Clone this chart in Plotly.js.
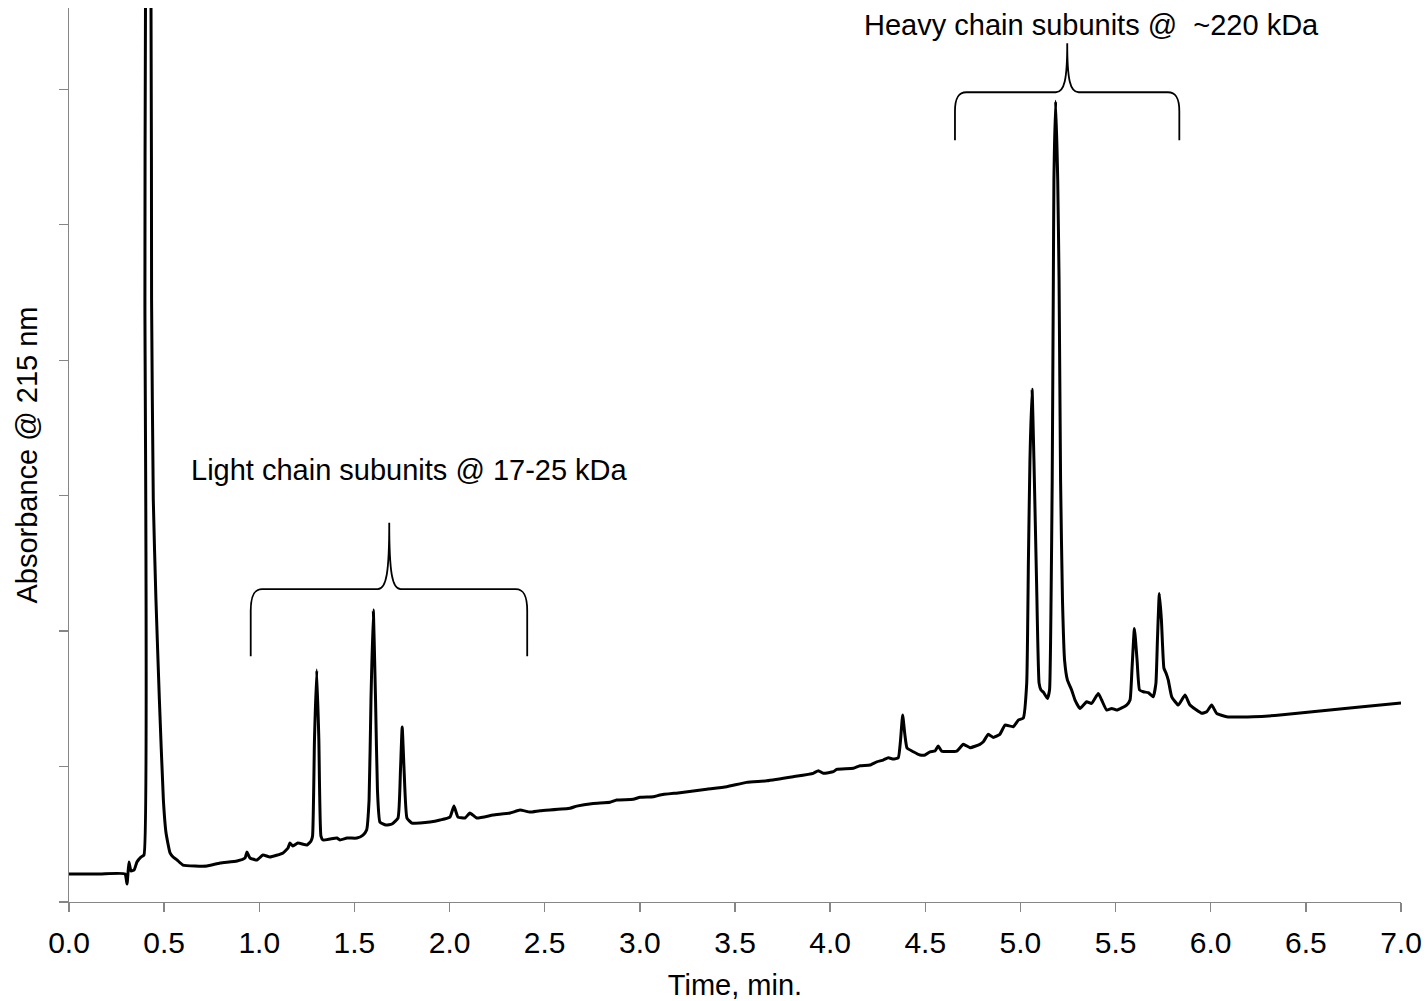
<!DOCTYPE html>
<html>
<head>
<meta charset="utf-8">
<script src="https://cdn.plot.ly/plotly-3.0.1.min.js"></script>
<style>html,body{margin:0;padding:0;background:#fff;}#chart{width:1428px;height:1001px;}</style>
</head>
<body>
<div id="chart"></div>
<script>
// Retention time (min)
const time = [
  0.000, 0.163, 0.294, 0.305, 0.315, 0.326, 0.342, 0.357, 0.378, 0.394,
  0.399, 0.402, 0.415, 0.431, 0.434, 0.443, 0.457, 0.475, 0.496, 0.510,
  0.531, 0.547, 0.568, 0.599, 0.662, 0.725, 0.794, 0.883, 0.925, 0.935,
  0.951, 0.988, 1.019, 1.056, 1.125, 1.151, 1.161, 1.177, 1.203, 1.251,
  1.272, 1.280, 1.290, 1.302, 1.313, 1.324, 1.335, 1.372, 1.408, 1.424,
  1.461, 1.513, 1.545, 1.564, 1.577, 1.587, 1.599, 1.611, 1.621, 1.634,
  1.666, 1.697, 1.729, 1.742, 1.751, 1.761, 1.776, 1.802, 1.845, 1.897,
  1.950, 2.002, 2.023, 2.044, 2.081, 2.107, 2.143, 2.228, 2.318, 2.370,
  2.423, 2.475, 2.633, 2.668, 2.755, 2.843, 2.878, 2.965, 3.001, 3.071,
  3.106, 3.211, 3.351, 3.456, 3.561, 3.667, 3.806, 3.911, 3.938, 3.964,
  4.017, 4.034, 4.122, 4.157, 4.209, 4.245, 4.279, 4.306, 4.332, 4.358,
  4.370, 4.381, 4.393, 4.404, 4.437, 4.472, 4.499, 4.525, 4.551, 4.568,
  4.586, 4.665, 4.700, 4.735, 4.787, 4.805, 4.831, 4.857, 4.892, 4.919,
  4.962, 4.989, 5.015, 5.033, 5.042, 5.050, 5.061, 5.071, 5.085, 5.098,
  5.108, 5.120, 5.142, 5.153, 5.161, 5.167, 5.173, 5.176, 5.185, 5.196,
  5.203, 5.211, 5.221, 5.232, 5.247, 5.269, 5.287, 5.313, 5.348, 5.374,
  5.409, 5.427, 5.453, 5.480, 5.506, 5.558, 5.576, 5.586, 5.599, 5.613,
  5.626, 5.646, 5.672, 5.698, 5.712, 5.720, 5.730, 5.741, 5.754, 5.765,
  5.777, 5.795, 5.830, 5.865, 5.891, 5.953, 5.979, 6.005, 6.031, 6.084,
  6.222, 6.364, 6.574, 6.784, 7.000
];
// Absorbance @ 215 nm (arbitrary units, 1 unit = 1 y tick)
const absorbance = [
  0.207, 0.207, 0.207, 0.133, 0.295, 0.229, 0.236, 0.295, 0.332, 0.347,
  4.443, 6.600, 7.200, 6.600, 4.443, 2.967, 2.229, 1.491, 0.753, 0.509,
  0.362, 0.332, 0.310, 0.273, 0.266, 0.266, 0.288, 0.303, 0.325, 0.369,
  0.325, 0.310, 0.347, 0.332, 0.362, 0.399, 0.435, 0.413, 0.435, 0.421,
  0.450, 0.487, 1.196, 1.712, 1.196, 0.487, 0.458, 0.465, 0.472, 0.458,
  0.472, 0.472, 0.494, 0.531, 0.753, 1.491, 2.155, 1.491, 0.827, 0.590,
  0.568, 0.576, 0.620, 0.974, 1.292, 0.974, 0.620, 0.583, 0.583, 0.590,
  0.605, 0.627, 0.708, 0.627, 0.620, 0.657, 0.620, 0.642, 0.657, 0.679,
  0.664, 0.674, 0.692, 0.708, 0.728, 0.736, 0.753, 0.758, 0.773, 0.777,
  0.790, 0.807, 0.832, 0.851, 0.883, 0.895, 0.925, 0.950, 0.969, 0.950,
  0.962, 0.979, 0.987, 1.006, 1.011, 1.035, 1.048, 1.065, 1.055, 1.065,
  1.196, 1.380, 1.232, 1.137, 1.109, 1.085, 1.085, 1.109, 1.114, 1.151,
  1.114, 1.114, 1.164, 1.139, 1.164, 1.183, 1.238, 1.215, 1.238, 1.306,
  1.294, 1.343, 1.358, 1.614, 2.524, 3.262, 3.786, 3.262, 2.352, 1.616,
  1.565, 1.550, 1.503, 1.565, 2.229, 3.114, 4.590, 5.328, 5.911, 5.328,
  4.590, 3.114, 2.229, 1.786, 1.638, 1.565, 1.491, 1.429, 1.478, 1.466,
  1.540, 1.491, 1.417, 1.429, 1.417, 1.454, 1.491, 1.712, 2.020, 1.786,
  1.565, 1.552, 1.545, 1.515, 1.614, 1.934, 2.278, 2.081, 1.727, 1.690,
  1.638, 1.515, 1.454, 1.528, 1.454, 1.393, 1.404, 1.454, 1.393, 1.368,
  1.368, 1.380, 1.410, 1.439, 1.469
];
// X tick values and labels
const xTickVals = [0, 0.5, 1, 1.5, 2, 2.5, 3, 3.5, 4, 4.5, 5, 5.5, 6, 6.5, 7];
const xTickText = ["0.0","0.5","1.0","1.5","2.0","2.5","3.0","3.5","4.0","4.5","5.0","5.5","6.0","6.5","7.0"];
// Bracket annotations: [start time, end time, middle time]
const braceLabels = ["Light chain subunits @ 17-25 kDa", "Heavy chain subunits @ \u00a0~220 kDa"];
const braceStart = [0.955, 4.656];
const braceEnd = [2.408, 5.835];
const braceMid = [1.683, 5.246];
const braceBottom = [1.815, 5.624];
const braceTop = [2.310, 5.978];
const braceTip = [2.800, 6.339];
const labelX = [1.792, 5.371];
const labelY = [3.188, 6.472];

function bracePath(i) {
  const x0 = braceStart[i], x1 = braceEnd[i], xm = braceMid[i];
  const yb = braceBottom[i], yt = braceTop[i], yp = braceTip[i];
  const dx = 0.06, dy = Math.min(0.16, (yt - yb) * 0.4), dm = 0.06;
  const h = (yp - yt);
  return `M ${x0},${yb} L ${x0},${yt - dy} C ${x0},${yt - dy * 0.3} ${x0 + dx * 0.3},${yt} ${x0 + dx},${yt} ` +
         `L ${xm - dm},${yt} C ${xm - dm * 0.25},${yt} ${xm},${yt + h * 0.25} ${xm},${yp} ` +
         `C ${xm},${yt + h * 0.25} ${xm + dm * 0.25},${yt} ${xm + dm},${yt} ` +
         `L ${x1 - dx},${yt} C ${x1 - dx * 0.3},${yt} ${x1},${yt - dy * 0.3} ${x1},${yt - dy} L ${x1},${yb}`;
}

const FONT = "Arial, 'Liberation Sans', sans-serif";
const shapes = braceStart.map((_, i) => ({
  type: 'path', xref: 'x', yref: 'y', path: bracePath(i),
  line: {color: '#000', width: 1.8}
}));
const annotations = braceLabels.map((t, i) => ({
  text: t, x: labelX[i], y: labelY[i], xref: 'x', yref: 'y',
  showarrow: false, xanchor: 'center', yanchor: 'middle',
  font: {family: FONT, size: 29, color: '#000'}
}));

const trace = {
  x: time, y: absorbance, type: 'scatter', mode: 'lines',
  line: {color: '#000', width: 3, shape: 'spline', smoothing: 0.4},
  hoverinfo: 'x+y'
};

const layout = {
  width: 1428, height: 1001,
  margin: {l: 69, r: 27, t: 8, b: 99},
  paper_bgcolor: '#fff', plot_bgcolor: '#fff',
  showlegend: false,
  font: {family: FONT, color: '#000'},
  xaxis: {
    range: [0, 7], tickvals: xTickVals, ticktext: xTickText,
    ticks: 'outside', ticklen: 9, tickcolor: '#868686', tickwidth: 1.3,
    ticklabelstandoff: 5,
    showline: true, linecolor: '#868686', linewidth: 1.3,
    showgrid: false, zeroline: false,
    tickfont: {family: FONT, size: 30, color: '#000'},
    title: {text: 'Time, min.', font: {family: FONT, size: 29, color: '#000'}, standoff: 22}
  },
  yaxis: {
    range: [0, 6.6], dtick: 1, tick0: 0,
    ticks: 'outside', ticklen: 9, tickcolor: '#868686', tickwidth: 1.3,
    showline: true, linecolor: '#868686', linewidth: 1.3,
    showgrid: false, zeroline: false, showticklabels: false,
    title: {text: 'Absorbance @ 215 nm', font: {family: FONT, size: 29, color: '#000'}, standoff: 12}
  },
  shapes: shapes,
  annotations: annotations
};

Plotly.newPlot('chart', [trace], layout, {staticPlot: true});
</script>
</body>
</html>
